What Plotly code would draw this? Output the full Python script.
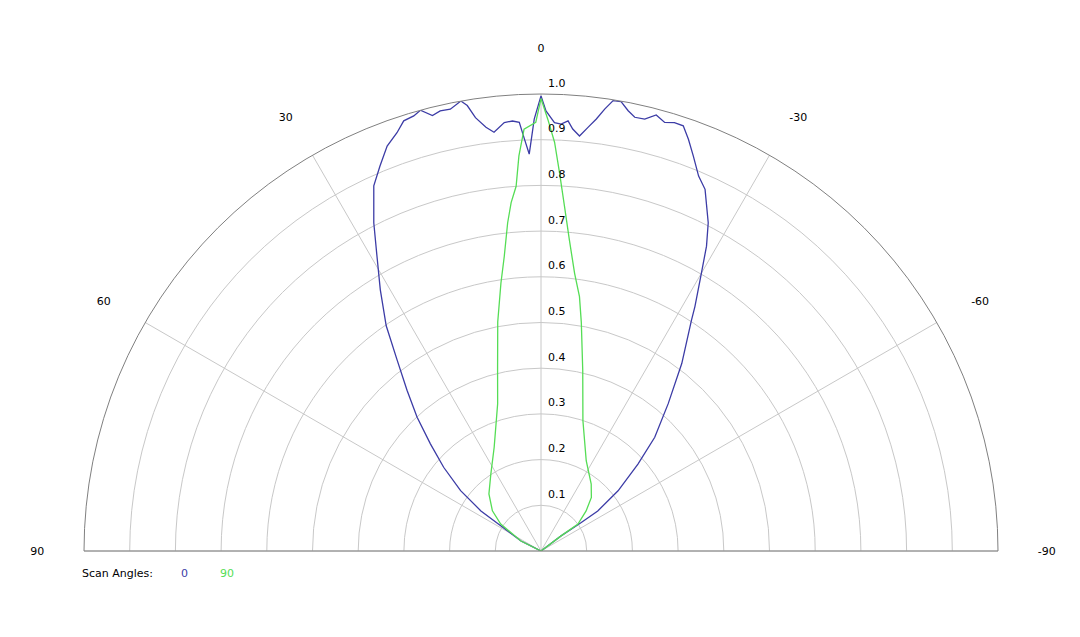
import plotly.graph_objects as go

# scan angle 0 (blue), left (+90) to right (-90)
theta_scan0 = [90, 63.4, 58, 56.3, 53.1, 49.3, 45.9, 42.8, 39.8, 37, 34.5, 31.6, 29.1, 27,
               24.6, 22.7, 20.8, 19, 17.7, 16.3, 15.3, 14, 12.9, 11.6, 10.1, 9.4, 8.6, 7.4,
               6.4, 4.9, 3.8, 2.9, 2.3, 1.7, 0.9, 0, -0.65, -1.8, -2.7, -3.6, -4.3, -5.3,
               -6.3, -7.3, -8.2, -9.1, -10.1, -11.2, -12.2, -13.5, -14.8, -16.1, -17.3,
               -18.5, -19.7, -21.1, -22.8, -24.4, -27, -28.5, -30, -32.2, -33.1, -36.9,
               -40.8, -45, -48.1, -52, -54.8, -54.7, -53, -90]
r_scan0 = [0, 0.049, 0.104, 0.158, 0.220, 0.281, 0.337, 0.399, 0.458, 0.523, 0.598, 0.671,
           0.738, 0.806, 0.879, 0.913, 0.948, 0.968, 0.988, 0.992, 1.0, 0.982, 0.988, 0.987,
           1.0, 0.988, 0.959, 0.935, 0.922, 0.941, 0.943, 0.939, 0.902, 0.869, 0.945, 0.996,
           0.963, 0.938, 0.935, 0.943, 0.926, 0.912, 0.932, 0.953, 0.977, 0.998, 0.999,
           0.982, 0.971, 0.972, 0.987, 0.976, 0.982, 0.981, 0.957, 0.926, 0.890, 0.869,
           0.806, 0.759, 0.702, 0.632, 0.603, 0.513, 0.426, 0.352, 0.285, 0.214, 0.152,
           0.108, 0.055, 0]

# scan angle 90 (green)
theta_scan90 = [90, 63.4, 56.3, 50.4, 42.4, 33.1, 24.3, 16.4, 13.5, 10.7, 8.5, 7.1, 5.8, 4.9,
                3.9, 3.2, 2.3, 0.7, 0, -0.9, -1.9, -2.8, -3.9, -5.2, -6.9, -8.6, -10, -13,
                -17.8, -26.6, -36.9, -43.2, -48.4, -54, -53, -90]
r_scan90 = [0, 0.049, 0.106, 0.138, 0.169, 0.201, 0.249, 0.336, 0.407, 0.510, 0.593, 0.650,
            0.722, 0.765, 0.800, 0.866, 0.924, 0.938, 0.99, 0.945, 0.895, 0.829, 0.756, 0.684,
            0.612, 0.563, 0.508, 0.406, 0.300, 0.221, 0.183, 0.161, 0.132, 0.100, 0.055, 0]

angle_ticks = [90, 60, 30, 0, -30, -60, -90]
angle_labels = ["90", "60", "30", "0", "-30", "-60", "-90"]
radial_ticks = [0.1, 0.2, 0.3, 0.4, 0.5, 0.6, 0.7, 0.8, 0.9, 1.0]
radial_labels = ["0.1", "0.2", "0.3", "0.4", "0.5", "0.6", "0.7", "0.8", "0.9", "1.0"]

BLUE = "#3c3ca6"
GREEN = "#55dd55"
FONT = "DejaVu Sans"
W, H = 1080, 637
SHIFT = 7  # page body margin pushes the plot down/right
CX, CY, R = 540, 550, 457  # pole and outer radius in screen pixels

fig = go.Figure()
fig.add_trace(go.Scatterpolar(theta=theta_scan0, r=r_scan0, mode="lines",
                              line=dict(color=BLUE, width=1.3), name="0"))
fig.add_trace(go.Scatterpolar(theta=theta_scan90, r=r_scan90, mode="lines",
                              line=dict(color=GREEN, width=1.3), name="90"))

fig.update_layout(
    width=W, height=H,
    margin=dict(l=0, r=0, t=0, b=0),
    paper_bgcolor="white",
    showlegend=False,
    font=dict(family=FONT, size=11, color="black"),
    polar=dict(
        domain=dict(x=[(CX - R - SHIFT) / W, (CX + R - SHIFT) / W],
                    y=[1 - (CY - SHIFT) / H, 1 - (CY - R - SHIFT) / H]),
        sector=[0, 180],
        bgcolor="white",
        angularaxis=dict(
            rotation=90, direction="counterclockwise",
            tickmode="array", tickvals=angle_ticks, ticktext=angle_labels,
            ticks="outside", ticklen=37, tickcolor="rgba(0,0,0,0)",
            showline=True, linecolor="#808080", linewidth=1,
            gridcolor="#c8c8c8", gridwidth=1,
            tickfont=dict(family=FONT, size=11, color="black"),
        ),
        radialaxis=dict(
            range=[0, 1], angle=90,
            tickmode="array", tickvals=radial_ticks,
            showline=False, ticks="", showticklabels=False,
            gridcolor="#c8c8c8", gridwidth=1,
        ),
    ),
)

# radial tick labels: right of the 0 spoke, a little above each ring
for v, txt in zip(radial_ticks, radial_labels):
    fig.add_annotation(x=(CX + 16 - SHIFT) / W, y=1 - (CY - R * v - 11 - SHIFT) / H,
                       xref="paper", yref="paper", xanchor="center", yanchor="middle",
                       text=txt, showarrow=False, font=dict(size=11, color="black"))

# colour-coded text legend under the plot
ly = 1 - (572 - SHIFT) / H
fig.add_annotation(x=(79 - SHIFT) / W, y=ly, xref="paper", yref="paper",
                   xanchor="left", yanchor="middle",
                   text="Scan Angles:", showarrow=False, font=dict(size=11, color="black"))
fig.add_annotation(x=(183 - SHIFT) / W, y=ly, xref="paper", yref="paper",
                   xanchor="center", yanchor="middle",
                   text="0", showarrow=False, font=dict(size=11, color=BLUE))
fig.add_annotation(x=(226 - SHIFT) / W, y=ly, xref="paper", yref="paper",
                   xanchor="center", yanchor="middle",
                   text="90", showarrow=False, font=dict(size=11, color=GREEN))

fig.write_html("out.html")
